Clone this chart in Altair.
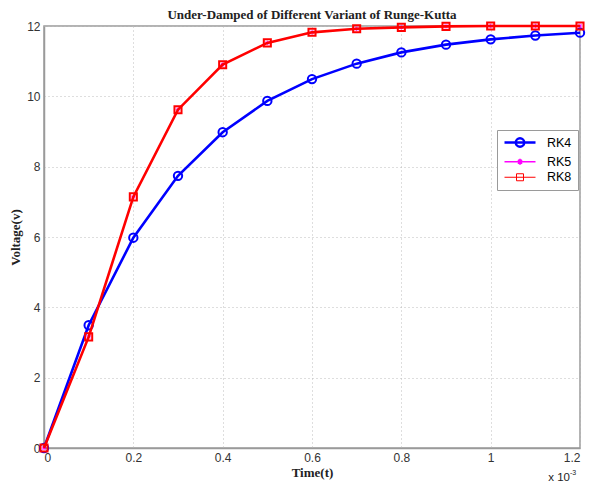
import altair as alt
import pandas as pd

# ---- data ----
time_ms = [0.0, 0.1, 0.2, 0.3, 0.4, 0.5, 0.6, 0.7, 0.8, 0.9, 1.0, 1.1, 1.2]
rk4 = [0.0, 3.49, 5.98, 7.74, 8.98, 9.87, 10.49, 10.93, 11.25, 11.47, 11.62, 11.73, 11.81]
rk5 = [0.0, 3.16, 7.14, 9.62, 10.90, 11.52, 11.82, 11.92, 11.96, 11.99, 12.0, 12.0, 12.0]
rk8 = [0.0, 3.16, 7.14, 9.62, 10.90, 11.52, 11.82, 11.92, 11.96, 11.99, 12.0, 12.0, 12.0]
series_names = ["RK4", "RK5", "RK8"]
series_colors = ["#0000ff", "#ff00ff", "#ff0000"]
x_ticks = [0, 0.2, 0.4, 0.6, 0.8, 1.0, 1.2]
y_ticks = [0, 2, 4, 6, 8, 10, 12]
exponent_label = ["x 10"]
exponent_power = ["-3"]

rows = []
for name, vals in zip(series_names, [rk4, rk5, rk8]):
    for t, v in zip(time_ms, vals):
        rows.append({"t": t, "v": v, "series": name})
df = pd.DataFrame(rows)

W, H = 536, 422
SERIF = "Liberation Serif"
SANS = "Liberation Sans"

x_enc = alt.X("t:Q", scale=alt.Scale(domain=[0, 1.2], nice=False, zero=False),
              axis=alt.Axis(values=x_ticks, format="~g", title="Time(t)"))
y_enc = alt.Y("v:Q", scale=alt.Scale(domain=[0, 12], nice=False),
              axis=alt.Axis(values=y_ticks, format="~g", title="Voltage(v)"))

base = alt.Chart(df)

star_path = ("M0,-1L0,1M-1,0L1,0M-0.7,-0.7L0.7,0.7M-0.7,0.7L0.7,-0.7")

styles = {
    "RK4": dict(color="#0000ff", lw=2.6, shape="circle", size=70, mw=2.0),
    "RK5": dict(color="#ff00ff", lw=1.0, shape=star_path, size=20, mw=1.0),
    "RK8": dict(color="#ff0000", lw=2.6, shape="square", size=50, mw=2.0),
}

layers = []
for name in series_names:
    s = styles[name]
    sub = base.transform_filter(alt.datum.series == name)
    layers.append(sub.mark_line(color=s["color"], strokeWidth=s["lw"]).encode(x=x_enc, y=y_enc))
    layers.append(sub.mark_point(color=s["color"], filled=False, shape=s["shape"],
                                 size=s["size"], strokeWidth=s["mw"], opacity=1).encode(x=x_enc, y=y_enc))

# legend symbols: line + marker
leg_paths = [
    "M-1,0L5.2,0M2.95,0A0.85,0.85,0,1,1,1.25,0A0.85,0.85,0,1,1,2.95,0Z",
    "M-1,0L5.2,0M2.1,-0.6L2.1,0.6M1.5,0L2.7,0M1.7,-0.4L2.5,0.4M1.7,0.4L2.5,-0.4",
    "M-1,0L5.2,0M1.4,-0.7L2.8,-0.7L2.8,0.7L1.4,0.7Z",
]
legend_layer = base.mark_point(filled=False, opacity=0).encode(
    x=x_enc, y=y_enc,
    color=alt.Color("series:N", scale=alt.Scale(domain=series_names, range=series_colors),
                    legend=alt.Legend(title=None, orient="none", legendX=453, legendY=104,
                                      symbolSize=100, symbolStrokeWidth=2.4, symbolOpacity=1,
                                      labelOffset=31, labelFont=SANS, labelFontSize=12.5,
                                      labelColor="#000000", strokeColor="#9a9a9a",
                                      fillColor="white", padding=6, rowPadding=2.5)),
    shape=alt.Shape("series:N", scale=alt.Scale(domain=series_names, range=leg_paths)),
    strokeWidth=alt.StrokeWidth("series:N", scale=alt.Scale(domain=series_names, range=[2.4, 1.0, 2.4])),
)

exp_df = pd.DataFrame({"t": [1.2], "txt": exponent_label, "pw": exponent_power})
exp_text = alt.Chart(exp_df).mark_text(align="right", baseline="alphabetic", dx=-10,
                                       font=SANS, fontSize=11.5, color="#222").encode(
    x=alt.X("t:Q"), y=alt.value(H + 33), text="txt:N")
exp_pow = alt.Chart(exp_df).mark_text(align="left", baseline="alphabetic", dx=-10, dy=-6,
                                      font=SANS, fontSize=7, color="#222").encode(
    x=alt.X("t:Q"), y=alt.value(H + 33), text="pw:N")

chart = alt.layer(*layers, legend_layer, exp_text, exp_pow).properties(
    width=W, height=H,
    title=alt.TitleParams("Under-Damped of Different Variant of Runge-Kutta",
                          font=SERIF, fontSize=13, fontWeight="bold", color="#222",
                          offset=-4, anchor="middle"),
    autosize=alt.AutoSizeParams(type="none"),
    padding={"left": 36, "top": 18, "right": 8, "bottom": 35},
).configure_view(stroke="#9a9a9a", strokeWidth=1.5).configure_axis(
    domainColor="#9a9a9a", domainWidth=1.5, ticks=False,
    grid=True, gridColor="#bdbdbd", gridDash=[1, 3], gridWidth=1,
    labelFont=SANS, labelFontSize=12, labelColor="#333333",
    titleFont=SERIF, titleFontSize=13, titleFontWeight="bold", titleColor="#222222",
    labelPadding=4,
).configure_axisY(titlePadding=4).configure_axisX(titlePadding=3, labelPadding=4)

chart.save("out.html", embed_options={"renderer": "svg", "actions": False})
